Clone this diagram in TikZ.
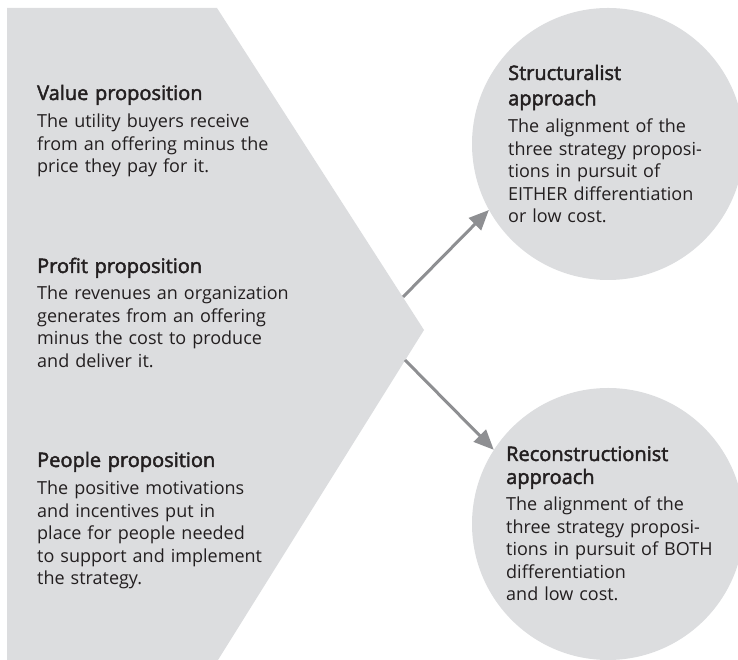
\documentclass[tikz,border=0pt]{standalone}
\usepackage{fontspec}
\setmainfont{Open Sans}
\newfontfamily\headfont{Open Sans}[FakeBold=2.2]
\usetikzlibrary{arrows.meta}
\definecolor{panel}{HTML}{DCDDDF}
\definecolor{arrowgray}{HTML}{8E8F92}
\definecolor{ink}{HTML}{231F20}
\tikzset{
  head/.style={anchor=base west, inner sep=0pt, text=ink, align=left,
    text width=220pt, font=\fontsize{20}{25.3}\selectfont\headfont},
  body/.style={anchor=base west, inner sep=0pt, text=ink, align=left,
    text width=290pt, font=\fontsize{18}{22.5}\selectfont},
  bubble/.style={circle, fill=panel, minimum size=272pt, inner sep=0pt},
  link/.style={draw=arrowgray, line width=3pt, -{Triangle[length=20pt,width=17pt]}}
}
\begin{document}
\begin{tikzpicture}[x=1pt, y=1pt]
  \useasboundingbox (0,0) rectangle (738,660);
  % the three propositions
  \fill[panel] (7,652) -- (217,652) -- (424,330) -- (218,0) -- (7,0) -- cycle;
  \coordinate (up) at (403,363);
  \coordinate (down) at (405,300);
  \node[head] (valueh) at (37,560) {Value proposition};
  \node[body] (valueb) at (37,532) {The utility buyers receive\\from an offering minus the\\price they pay for it.};
  \node[head] (profith) at (37,387) {Profit proposition};
  \node[body] (profitb) at (37,360) {The revenues an organization\\generates from an offering\\minus the cost to produce\\and deliver it.};
  \node[head] (peopleh) at (37,193) {People proposition};
  \node[body] (peopleb) at (37,165) {The positive motivations\\and incentives put in\\place for people needed\\to support and implement\\the strategy.};
  % the two approaches
  \node[bubble] (struct) at (608,516) {};
  \node[bubble] (recon) at (608,136) {};
  \node[head] (structh) at (508,580) {Structuralist\\approach};
  \node[body] (structb) at (508,527) {The alignment of the\\three strategy proposi-\\tions in pursuit of\\EITHER differentiation\\or low cost.};
  \node[head] (reconh) at (506,199) {Reconstructionist\\[-2.3pt]approach};
  \node[body] (reconb) at (506,149) {The alignment of the\\three strategy proposi-\\tions in pursuit of BOTH\\differentiation\\and low cost.};
  \draw[link] (up) -- (struct.209);
  \draw[link] (down) -- (recon.147);
\end{tikzpicture}
\end{document}
